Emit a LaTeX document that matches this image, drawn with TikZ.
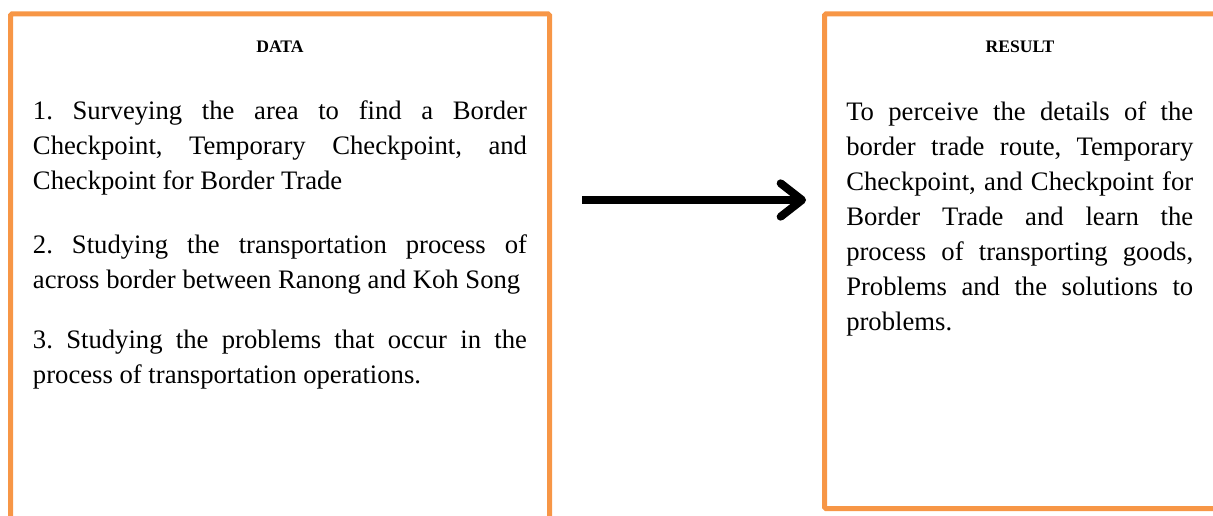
\documentclass[tikz,border=0pt]{standalone}
\usepackage{fontspec}
\setmainfont{Liberation Serif}
\usetikzlibrary{arrows.meta}

\definecolor{paneledge}{HTML}{F79646}

\tikzset{
  panel/.style={draw=paneledge, line width=3.75pt, rounded corners=1pt,
    anchor=north west, inner sep=0pt, outer sep=0pt},
  heading/.style={font=\bfseries\fontsize{13.2}{15}\selectfont, anchor=base},
  body/.style={font=\fontsize{20}{26.25}\selectfont, align=justify,
    anchor=base west, inner sep=0pt},
  flow/.style={line width=6pt, -{Straight Barb[length=16pt,width=25pt,round]}}
}

\begin{document}
\hyphenpenalty=10000
\tolerance=10000
\frenchspacing
\begin{tikzpicture}[x=0.75pt, y=-0.75pt]
    \path[use as bounding box, clip] (0,0) rectangle (1213,516);
    % the two panels
    \node[panel, minimum width=404.25pt, minimum height=430pt] (datapanel) at (10.5,14) {};
    \node[panel, minimum width=293.25pt, minimum height=370.9pt] (resultpanel) at (824.5,14) {};
    % headings
    \node[heading] (datahead)   at ( 280,52.3) {DATA};
    \node[heading] (resulthead) at (1020,52.3) {RESULT};
    % data items
    \node[body, text width=370.5pt] (itemone) at (32.7,120)
      {1. Surveying the area to find a Border\linebreak Checkpoint, Temporary Checkpoint, and\linebreak Checkpoint for Border Trade};
    \node[body, text width=370.5pt] (itemtwo) at (32.7,253.3)
      {2. Studying the transportation process of\linebreak across border between Ranong and Koh Song};
    \node[body, text width=370.5pt] (itemthree) at (32.7,348.3)
      {3. Studying the problems that occur in the\linebreak process of transportation operations.};
    % result text
    \node[body, text width=260.25pt] (outcome) at (846,120.7)
      {To perceive the details of the\linebreak border trade route, Temporary\linebreak Checkpoint, and Checkpoint for\linebreak Border Trade and learn the\linebreak process of transporting goods,\linebreak Problems and the solutions to\linebreak problems.};
    % arrow between panels
    \coordinate (flowstart) at (582,200);
    \coordinate (flowend)   at (806,200);
    \draw[flow] (flowstart) -- (flowend);
\end{tikzpicture}
\end{document}
